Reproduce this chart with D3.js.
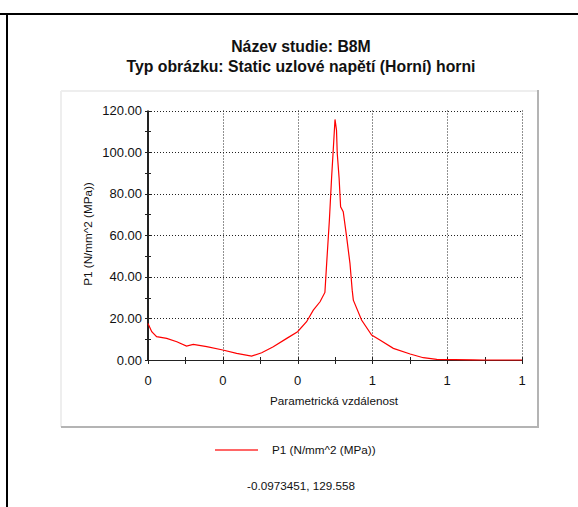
<!DOCTYPE html>
<html>
<head>
<meta charset="utf-8">
<script src="https://cdn.jsdelivr.net/npm/d3@7"></script>
<style>
  body { margin: 0; background: #fff; }
  svg { display: block; font-family: "Liberation Sans", Arial, sans-serif; }
</style>
</head>
<body>
<script>
// data
var posX = [0.000, 0.010, 0.023, 0.050, 0.077, 0.103, 0.121, 0.157, 0.200, 0.237,
            0.277, 0.304, 0.335, 0.371, 0.400, 0.424, 0.442, 0.460, 0.473, 0.478,
            0.485, 0.491, 0.495, 0.500, 0.504, 0.506, 0.511, 0.515, 0.522, 0.531,
            0.540, 0.546, 0.549, 0.571, 0.598, 0.620, 0.656, 0.701, 0.736, 0.772,
            0.869, 0.896, 1.000];
var p1 = [17.6, 13.6, 11.2, 10.4, 8.8, 6.7, 7.5, 6.4, 4.8, 3.2,
          1.9, 3.5, 6.4, 10.4, 13.6, 18.4, 24.0, 28.0, 32.5, 47.3,
          67.3, 88.0, 100.0, 115.7, 110.6, 99.4, 87.4, 73.7, 71.3, 59.3,
          46.5, 33.6, 28.8, 19.2, 12.0, 9.6, 5.6, 2.9, 1.1, 0.3,
          0.1, 0.0, 0.0];
var xTicks = [0, 0.2, 0.4, 0.6, 0.8, 1];
var yTicks = [0, 20, 40, 60, 80, 100, 120];
var titleLines = ['Název studie: B8M', 'Typ obrázku: Static uzlové napětí (Horní) horni'];
var seriesName = 'P1 (N/mm^2 (MPa))';
var cursorText = '-0.0973451, 129.558';

var width = 578, height = 507;
var svg = d3.select('body').append('svg')
    .attr('width', width)
    .attr('height', height);

// outer frame lines
svg.append('line').attr('x1', 0).attr('x2', width).attr('y1', 14).attr('y2', 14)
    .attr('stroke', '#000').attr('stroke-width', 2);
svg.append('line').attr('x1', 7).attr('x2', 7).attr('y1', 13).attr('y2', height)
    .attr('stroke', '#000').attr('stroke-width', 2);

// titles
svg.selectAll('text.title').data(titleLines)
    .enter().append('text')
    .attr('class', 'title')
    .attr('x', 301)
    .attr('y', function (d, i) { return 52 + i * 20; })
    .attr('text-anchor', 'middle')
    .style('font-size', '15.8px')
    .style('font-weight', 'bold')
    .attr('fill', '#111')
    .text(function (d) { return d; });

// panel with 3d border
var pan = { x: 61, y: 91, w: 477, h: 336 };
svg.append('line').attr('x1', pan.x).attr('x2', pan.x + pan.w).attr('y1', pan.y).attr('y2', pan.y)
    .attr('stroke', '#eeeeee').attr('stroke-width', 2);
svg.append('line').attr('x1', pan.x).attr('x2', pan.x).attr('y1', pan.y).attr('y2', pan.y + pan.h)
    .attr('stroke', '#eeeeee').attr('stroke-width', 2);
svg.append('line').attr('x1', pan.x).attr('x2', pan.x + pan.w + 1).attr('y1', pan.y + pan.h).attr('y2', pan.y + pan.h)
    .attr('stroke', '#b4b4b4').attr('stroke-width', 2);
svg.append('line').attr('x1', pan.x + pan.w).attr('x2', pan.x + pan.w).attr('y1', pan.y - 1).attr('y2', pan.y + pan.h)
    .attr('stroke', '#b4b4b4').attr('stroke-width', 2);

// plot area
var margin = { left: 148, top: 110.5, right: 522, bottom: 360 };
var xScale = d3.scaleLinear().domain([0, 1]).range([margin.left, margin.right]);
var yScale = d3.scaleLinear().domain([0, 120]).range([margin.bottom, margin.top]);

// dotted grid
svg.append('g').selectAll('line').data(yTicks.slice(1))
    .enter().append('line')
    .attr('x1', xScale(0)).attr('x2', xScale(1))
    .attr('y1', function (d) { return Math.round(yScale(d)) + 0.5; })
    .attr('y2', function (d) { return Math.round(yScale(d)) + 0.5; })
    .attr('stroke', '#222').attr('stroke-dasharray', '1,2');
svg.append('g').selectAll('line').data(xTicks.slice(1))
    .enter().append('line')
    .attr('x1', function (d) { return Math.round(xScale(d)) + 0.5; })
    .attr('x2', function (d) { return Math.round(xScale(d)) + 0.5; })
    .attr('y1', yScale(120)).attr('y2', yScale(0))
    .attr('stroke', '#222').attr('stroke-dasharray', '1,2');

// axes lines + ticks crossing the axis
var axis = svg.append('g').attr('stroke', '#222');
axis.append('line').attr('x1', 148).attr('x2', 148).attr('y1', yScale(120)).attr('y2', yScale(0))
    .attr('stroke-width', 2);
axis.append('line').attr('x1', xScale(0)).attr('x2', xScale(1)).attr('y1', 360.5).attr('y2', 360.5);
axis.selectAll('line.yt').data(d3.range(0, 121, 10))
    .enter().append('line').attr('class', 'yt')
    .attr('x1', 145).attr('x2', 151)
    .attr('y1', function (d) { return Math.round(yScale(d)) + 0.5; })
    .attr('y2', function (d) { return Math.round(yScale(d)) + 0.5; });
axis.selectAll('line.xt').data(d3.range(0, 1.01, 0.1))
    .enter().append('line').attr('class', 'xt')
    .attr('x1', function (d) { return Math.round(xScale(d)) + 0.5; })
    .attr('x2', function (d) { return Math.round(xScale(d)) + 0.5; })
    .attr('y1', 357).attr('y2', 364);

// tick labels
svg.append('g').selectAll('text').data(yTicks)
    .enter().append('text')
    .attr('x', 142)
    .attr('y', function (d) { return yScale(d) + 4.5; })
    .attr('text-anchor', 'end')
    .style('font-size', '13px')
    .attr('fill', '#111')
    .text(d3.format('.2f'));
svg.append('g').selectAll('text').data(xTicks)
    .enter().append('text')
    .attr('x', function (d) { return xScale(d); })
    .attr('y', 385)
    .attr('text-anchor', 'middle')
    .style('font-size', '13px')
    .attr('fill', '#111')
    .text(d3.format('.0f'));

// axis titles
svg.append('text')
    .attr('x', 334).attr('y', 405)
    .attr('text-anchor', 'middle')
    .style('font-size', '11.7px')
    .attr('fill', '#111')
    .text('Parametrická vzdálenost');
svg.append('text')
    .attr('transform', 'translate(92,234) rotate(-90)')
    .attr('text-anchor', 'middle')
    .style('font-size', '11.7px')
    .attr('fill', '#111')
    .text(seriesName);

// the curve
var line = d3.line()
    .x(function (d, i) { return xScale(posX[i]); })
    .y(function (d) { return yScale(d); });
svg.append('path').datum(p1)
    .attr('d', line)
    .attr('fill', 'none')
    .attr('stroke', '#ff0000')
    .attr('stroke-width', 1.2);

// legend
svg.append('line').attr('x1', 215).attr('x2', 258).attr('y1', 450).attr('y2', 450)
    .attr('stroke', '#ff3333').attr('stroke-width', 1.5);
svg.append('text').attr('x', 272).attr('y', 454)
    .style('font-size', '11.7px').attr('fill', '#111')
    .text(seriesName);
svg.append('text').attr('x', 301).attr('y', 490)
    .attr('text-anchor', 'middle')
    .style('font-size', '11.7px').attr('fill', '#111')
    .text(cursorText);
</script>
</body>
</html>
